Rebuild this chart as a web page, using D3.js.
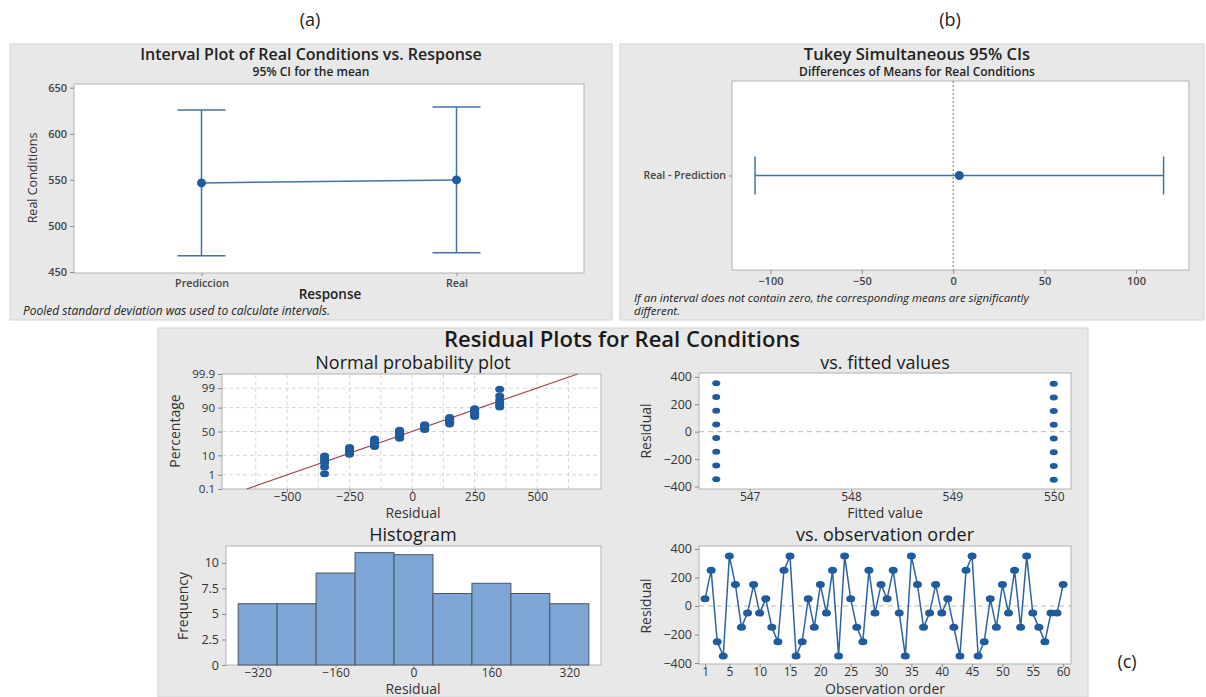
<!DOCTYPE html>
<html>
<head>
<meta charset="utf-8">
<script src="https://cdn.jsdelivr.net/npm/d3@7"></script>
<style>
body { margin: 0; background: #fff; }
svg { display: block; font-family: "Open Sans", "Noto Sans", sans-serif; }
</style>
</head>
<body>
<svg id="chart" width="1206" height="697"></svg>
<script>
// (a) interval plot
var intervalGroups = ["Prediccion", "Real"]
var intervalMeans = [546.7, 550]
var intervalLower = [467.7, 471]
var intervalUpper = [625.7, 629]

// (b) tukey
var tukeyPairs = ["Real - Prediction"]
var tukeyDiff = [3.33]
var tukeyLower = [-108.4]
var tukeyUpper = [115.1]

// (c) residuals in observation order
var obsResiduals = [50, 250, -250, -350, 350, 150, -150, -50, 150, -50,
    50, -150, -250, 250, 350, -350, -250, 50, -150, 150,
    -50, 250, -350, 350, 50, -150, -250, 250, -50, 150,
    50, 250, -50, -350, 350, 150, -150, -50, 150, -50,
    50, -150, -350, 250, 350, -350, -250, 50, -150, 150,
    -50, 250, -150, 350, -50, -150, -250, -50, -50, 150]

var fittedLevels = [546.67, 550]
var fittedResidualsLow = [353.3, 253.3, 153.3, 53.3, -46.7, -146.7, -246.7, -346.7]
var fittedResidualsHigh = [350, 250, 150, 50, -50, -150, -250, -350]

var histCenters = [-320, -240, -160, -80, 0, 80, 160, 240, 320]
var histCounts = [6, 6, 9, 11, 10.8, 7, 8, 7, 6]
var histWidth = 80

var probTicks = [0.1, 1, 10, 50, 90, 99, 99.9]
var fitMean = 0, fitSd = 214

var svg = d3.select("#chart")
var ink = "#333"
var dotBlue = "#1f5b9e"
var lineBlue = "#3f73a6"

function panel(x0, y0, x1, y1) {
    svg.append("rect")
        .attr("x", x0).attr("y", y0)
        .attr("width", x1 - x0).attr("height", y1 - y0)
        .attr("fill", "#e8e8e8").attr("stroke", "#d4d4d4")
}

function plotBox(x0, y0, x1, y1) {
    svg.append("rect")
        .attr("x", x0).attr("y", y0)
        .attr("width", x1 - x0).attr("height", y1 - y0)
        .attr("fill", "#fff").attr("stroke", "#b2b2b2")
}

function text(x, y, str, size, opts) {
    opts = opts || {}
    var t = svg.append("text")
        .attr("x", x).attr("y", y)
        .attr("font-size", size)
        .attr("fill", opts.fill || ink)
        .attr("text-anchor", opts.anchor || "middle")
        .attr("font-weight", opts.weight || "normal")
        .attr("font-style", opts.style || "normal")
        .text(str)
    if (opts.rotate) t.attr("transform", "rotate(-90," + x + "," + y + ")")
    return t
}

function styleAxis(g, size) {
    g.select(".domain").remove()
    g.selectAll(".tick line").attr("stroke", "#8a8a8a")
    g.selectAll(".tick text").attr("font-size", size).attr("fill", ink)
        .attr("font-family", '"Open Sans", sans-serif')
}

// probit (Acklam) for the probability scale
function probit(p) {
    var a = [-3.969683028665376e+01, 2.209460984245205e+02, -2.759285104469687e+02, 1.383577518672690e+02, -3.066479806614716e+01, 2.506628277459239e+00]
    var b = [-5.447609879822406e+01, 1.615858368580409e+02, -1.556989798598866e+02, 6.680131188771972e+01, -1.328068155305075e+01]
    var c = [-7.784894002430293e-03, -3.223964580411365e-01, -2.400758277161838e+00, -2.549732539343734e+00, 4.374664141464968e+00, 2.938163982698783e+00]
    var d = [7.784695709041462e-03, 3.224671290700398e-01, 2.445134137142996e+00, 3.754408661907416e+00]
    var q, r
    if (p < 0.02425) {
        q = Math.sqrt(-2 * Math.log(p))
        return (((((c[0]*q+c[1])*q+c[2])*q+c[3])*q+c[4])*q+c[5]) / ((((d[0]*q+d[1])*q+d[2])*q+d[3])*q+1)
    }
    if (p > 1 - 0.02425) {
        q = Math.sqrt(-2 * Math.log(1 - p))
        return -(((((c[0]*q+c[1])*q+c[2])*q+c[3])*q+c[4])*q+c[5]) / ((((d[0]*q+d[1])*q+d[2])*q+d[3])*q+1)
    }
    q = p - 0.5
    r = q * q
    return (((((a[0]*r+a[1])*r+a[2])*r+a[3])*r+a[4])*r+a[5])*q / (((((b[0]*r+b[1])*r+b[2])*r+b[3])*r+b[4])*r+1)
}

// letters
text(310, 26, "(a)", 18, {fill: "#222"})
text(950, 26, "(b)", 18, {fill: "#222"})
text(1127, 668, "(c)", 18, {fill: "#222"})

// ---------- panel (a) ----------
panel(10, 44, 612, 320)
text(311, 60, "Interval Plot of Real Conditions vs. Response", 16, {weight: 600, fill: "#222"})
text(311, 76, "95% CI for the mean", 12, {weight: 600, fill: "#222"})

var xa = d3.scalePoint().domain(intervalGroups).range([74, 584]).padding(0.5)
var ya = d3.scaleLinear().domain([449, 654]).range([273, 84])
plotBox(74, 84, 584, 273)

svg.append("g").attr("transform", "translate(74,0)")
    .call(d3.axisLeft(ya).tickValues([450, 500, 550, 600, 650]).tickSize(4).tickSizeOuter(0))
    .call(g => styleAxis(g, 11))
    .call(g => g.selectAll(".tick text").attr("font-weight", 600).attr("fill", "#444"))
svg.append("g").attr("transform", "translate(0,273)")
    .call(d3.axisBottom(xa).tickSize(3).tickSizeOuter(0))
    .call(g => styleAxis(g, 10.7))
    .call(g => g.selectAll(".tick text").attr("font-weight", 600).attr("fill", "#444"))

var ivData = intervalGroups.map((k, i) => ({k: k, m: intervalMeans[i], lo: intervalLower[i], hi: intervalUpper[i]}))
svg.append("path").datum(ivData)
    .attr("d", d3.line().x(d => xa(d.k)).y(d => ya(d.m)))
    .attr("fill", "none").attr("stroke", lineBlue).attr("stroke-width", 1.5)
var ivG = svg.selectAll("g.iv").data(ivData).enter().append("g").attr("class", "iv")
ivG.append("line").attr("x1", d => xa(d.k)).attr("x2", d => xa(d.k))
    .attr("y1", d => ya(d.lo)).attr("y2", d => ya(d.hi))
    .attr("stroke", lineBlue).attr("stroke-width", 1.5)
ivG.append("line").attr("x1", d => xa(d.k) - 24).attr("x2", d => xa(d.k) + 24)
    .attr("y1", d => ya(d.lo)).attr("y2", d => ya(d.lo))
    .attr("stroke", lineBlue).attr("stroke-width", 1.5)
ivG.append("line").attr("x1", d => xa(d.k) - 24).attr("x2", d => xa(d.k) + 24)
    .attr("y1", d => ya(d.hi)).attr("y2", d => ya(d.hi))
    .attr("stroke", lineBlue).attr("stroke-width", 1.5)
ivG.append("circle").attr("cx", d => xa(d.k)).attr("cy", d => ya(d.m)).attr("r", 4.5).attr("fill", dotBlue)

text(37, 178, "Real Conditions", 12.5, {rotate: true})
text(330, 299, "Response", 13.5, {weight: 600, fill: "#222"})
text(23, 315, "Pooled standard deviation was used to calculate intervals.", 12, {anchor: "start", style: "italic", fill: "#222"})

// ---------- panel (b) ----------
panel(620, 44, 1204, 320)
text(917, 60, "Tukey Simultaneous 95% CIs", 16.5, {weight: 600, fill: "#222"})
text(917, 76, "Differences of Means for Real Conditions", 12, {weight: 600, fill: "#222"})

var xb = d3.scaleLinear().domain([-121, 129]).range([732, 1189])
var yb = d3.scalePoint().domain(tukeyPairs).range([81, 270]).padding(0.5)
plotBox(732, 81, 1189, 270)

svg.append("g").attr("transform", "translate(0,270)")
    .call(d3.axisBottom(xb).tickValues([-100, -50, 0, 50, 100]).tickSize(4).tickSizeOuter(0))
    .call(g => styleAxis(g, 11))
    .call(g => g.selectAll(".tick text").attr("font-weight", 600).attr("fill", "#444"))
svg.append("g").attr("transform", "translate(732,0)")
    .call(d3.axisLeft(yb).tickSize(3).tickSizeOuter(0))
    .call(g => styleAxis(g, 10.5))
    .call(g => g.selectAll(".tick text").attr("font-weight", 600).attr("fill", "#444"))

svg.append("line").attr("x1", xb(0)).attr("x2", xb(0)).attr("y1", 81).attr("y2", 270)
    .attr("stroke", "#62a862").attr("stroke-width", 1.2).attr("stroke-dasharray", "2,2")

var tkData = tukeyPairs.map((k, i) => ({k: k, m: tukeyDiff[i], lo: tukeyLower[i], hi: tukeyUpper[i]}))
var tkG = svg.selectAll("g.tk").data(tkData).enter().append("g").attr("class", "tk")
tkG.append("line").attr("x1", d => xb(d.lo)).attr("x2", d => xb(d.hi))
    .attr("y1", d => yb(d.k)).attr("y2", d => yb(d.k))
    .attr("stroke", lineBlue).attr("stroke-width", 1.5)
tkG.append("line").attr("x1", d => xb(d.lo)).attr("x2", d => xb(d.lo))
    .attr("y1", d => yb(d.k) - 19).attr("y2", d => yb(d.k) + 19)
    .attr("stroke", lineBlue).attr("stroke-width", 1.5)
tkG.append("line").attr("x1", d => xb(d.hi)).attr("x2", d => xb(d.hi))
    .attr("y1", d => yb(d.k) - 19).attr("y2", d => yb(d.k) + 19)
    .attr("stroke", lineBlue).attr("stroke-width", 1.5)
tkG.append("circle").attr("cx", d => xb(d.m)).attr("cy", d => yb(d.k)).attr("r", 4.5).attr("fill", dotBlue)

text(634, 302, "If an interval does not contain zero, the corresponding means are significantly", 11.5, {anchor: "start", style: "italic", fill: "#222"})
text(634, 315, "different.", 11.5, {anchor: "start", style: "italic", fill: "#222"})

// ---------- panel (c) ----------
panel(158, 328, 1088, 697)
text(622, 347, "Residual Plots for Real Conditions", 22, {weight: 600, fill: "#1a1a1a"})

// normal probability plot
text(413, 369, "Normal probability plot", 18, {fill: "#1a1a1a"})
var xn = d3.scaleLinear().domain([-760, 755]).range([222, 601])
var yn = d3.scaleLinear().domain([-3.09, 3.09]).range([489, 374])
plotBox(222, 374, 601, 489)

var gridN = svg.append("g")
gridN.selectAll("line.v").data([-625, -500, -375, -250, -125, 0, 125, 250, 375, 500, 625]).enter()
    .append("line").attr("x1", d => xn(d)).attr("x2", d => xn(d)).attr("y1", 374).attr("y2", 489)
    .attr("stroke", "#d6d6d6").attr("stroke-dasharray", "4,3")
gridN.selectAll("line.h").data([1, 10, 50, 90, 99]).enter()
    .append("line").attr("x1", 222).attr("x2", 601).attr("y1", d => yn(probit(d / 100))).attr("y2", d => yn(probit(d / 100)))
    .attr("stroke", "#d6d6d6").attr("stroke-dasharray", "4,3")

svg.append("g").attr("transform", "translate(0,489)")
    .call(d3.axisBottom(xn).tickValues([-500, -250, 0, 250, 500]).tickSize(3).tickPadding(0).tickSizeOuter(0))
    .call(g => styleAxis(g, 12))
svg.append("g").attr("transform", "translate(222,0)")
    .call(d3.axisLeft(d3.scaleLinear().domain(yn.domain()).range(yn.range()))
        .tickValues(probTicks.map(p => probit(p / 100)))
        .tickFormat((d, i) => probTicks[i]).tickSize(4).tickSizeOuter(0))
    .call(g => styleAxis(g, 11.5))

var sorted = obsResiduals.slice().sort((a, b) => a - b)
var nObs = sorted.length
var probPts = sorted.map((r, i) => ({r: r, z: probit((i + 1 - 0.3) / (nObs + 0.4))}))

svg.append("line")
    .attr("x1", xn(fitMean + fitSd * -3.09)).attr("y1", yn(-3.09))
    .attr("x2", xn(fitMean + fitSd * 3.09)).attr("y2", yn(3.09))
    .attr("stroke", "#a3474a").attr("stroke-width", 1.2)
svg.append("g").selectAll("ellipse").data(probPts).enter().append("ellipse")
    .attr("cx", d => xn(d.r)).attr("cy", d => yn(d.z)).attr("rx", 4.5).attr("ry", 3.5).attr("fill", dotBlue)

text(413, 518, "Residual", 14)
text(180, 431, "Percentage", 14, {rotate: true})

// vs fitted
text(885, 369, "vs. fitted values", 18, {fill: "#1a1a1a"})
var xf = d3.scaleLinear().domain([546.5, 550.17]).range([699, 1071])
var yf = d3.scaleLinear().domain([-418, 428]).range([489, 373])
plotBox(699, 373, 1071, 489)
svg.append("line").attr("x1", 699).attr("x2", 1071).attr("y1", yf(0)).attr("y2", yf(0))
    .attr("stroke", "#b8b8b8").attr("stroke-dasharray", "5,4")
svg.append("g").attr("transform", "translate(0,489)")
    .call(d3.axisBottom(xf).tickValues([547, 548, 549, 550]).tickFormat(d3.format("d")).tickSize(3).tickPadding(0).tickSizeOuter(0))
    .call(g => styleAxis(g, 12))
svg.append("g").attr("transform", "translate(699,0)")
    .call(d3.axisLeft(yf).tickValues([-400, -200, 0, 200, 400]).tickSize(4).tickSizeOuter(0))
    .call(g => styleAxis(g, 12.5))
var fitPts = fittedResidualsLow.map(r => ({f: fittedLevels[0], r: r}))
    .concat(fittedResidualsHigh.map(r => ({f: fittedLevels[1], r: r})))
svg.append("g").selectAll("ellipse").data(fitPts).enter().append("ellipse")
    .attr("cx", d => xf(d.f)).attr("cy", d => yf(d.r)).attr("rx", 4).attr("ry", 3).attr("fill", dotBlue)
text(885, 518, "Fitted value", 14)
text(651, 431, "Residual", 14, {rotate: true})

// histogram
text(413, 541, "Histogram", 18, {fill: "#1a1a1a"})
var xh = d3.scaleLinear().domain([-385, 385]).range([226, 601])
var yh = d3.scaleLinear().domain([0, 11.65]).range([665, 546])
plotBox(226, 546, 601, 665)
svg.append("g").selectAll("rect").data(histCounts).enter().append("rect")
    .attr("x", (d, i) => xh(histCenters[i] - histWidth / 2))
    .attr("width", (d, i) => xh(histCenters[i] + histWidth / 2) - xh(histCenters[i] - histWidth / 2))
    .attr("y", d => yh(d)).attr("height", d => yh(0) - yh(d))
    .attr("fill", "#7da5d6").attr("stroke", "#4d5660").attr("stroke-width", 1)
svg.append("g").attr("transform", "translate(0,665)")
    .call(d3.axisBottom(xh).tickValues([-320, -160, 0, 160, 320]).tickSize(3).tickPadding(0).tickSizeOuter(0))
    .call(g => styleAxis(g, 12))
svg.append("g").attr("transform", "translate(226,0)")
    .call(d3.axisLeft(yh).tickValues([0, 2.5, 5, 7.5, 10]).tickFormat(d3.format("~g")).tickSize(4).tickSizeOuter(0))
    .call(g => styleAxis(g, 12.5))
text(413, 694, "Residual", 14)
text(188, 606, "Frequency", 14, {rotate: true})

// vs order
text(885, 541, "vs. observation order", 18, {fill: "#1a1a1a"})
var xo = d3.scaleLinear().domain([0, 61.3]).range([699, 1071])
var yo = d3.scaleLinear().domain([-407, 421]).range([664, 546])
plotBox(699, 546, 1071, 664)
svg.append("line").attr("x1", 699).attr("x2", 1071).attr("y1", yo(0)).attr("y2", yo(0))
    .attr("stroke", "#b8b8b8").attr("stroke-dasharray", "5,4")
svg.append("g").attr("transform", "translate(0,664)")
    .call(d3.axisBottom(xo).tickValues([1, 5, 10, 15, 20, 25, 30, 35, 40, 45, 50, 55, 60]).tickSize(3).tickPadding(0).tickSizeOuter(0))
    .call(g => styleAxis(g, 12))
svg.append("g").attr("transform", "translate(699,0)")
    .call(d3.axisLeft(yo).tickValues([-400, -200, 0, 200, 400]).tickSize(4).tickSizeOuter(0))
    .call(g => styleAxis(g, 12.5))
var orderPts = obsResiduals.map((r, i) => ({i: i + 1, r: r}))
svg.append("path").datum(orderPts)
    .attr("d", d3.line().x(d => xo(d.i)).y(d => yo(d.r)))
    .attr("fill", "none").attr("stroke", "#2b63a3").attr("stroke-width", 1.5)
svg.append("g").selectAll("ellipse").data(orderPts).enter().append("ellipse")
    .attr("cx", d => xo(d.i)).attr("cy", d => yo(d.r)).attr("rx", 4.5).attr("ry", 3.5).attr("fill", dotBlue)
text(885, 694, "Observation order", 14)
text(651, 606, "Residual", 14, {rotate: true})
</script>
</body>
</html>
